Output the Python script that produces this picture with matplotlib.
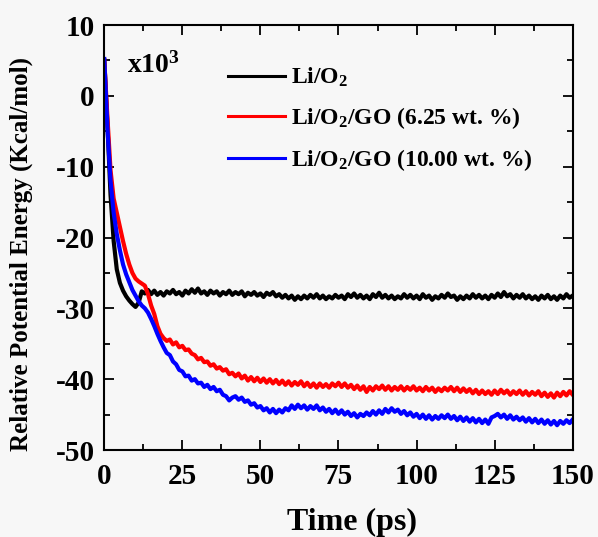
import numpy as np
import matplotlib
matplotlib.use("Agg")
import matplotlib.pyplot as plt
from matplotlib.ticker import MultipleLocator

plt.rcParams['font.family'] = ['Liberation Serif', 'DejaVu Serif']
plt.rcParams['font.weight'] = 'bold'
plt.rcParams['mathtext.fontset'] = 'custom'
plt.rcParams['mathtext.rm'] = 'Liberation Serif:bold'
plt.rcParams['mathtext.bf'] = 'Liberation Serif:bold'
plt.rcParams['mathtext.it'] = 'Liberation Serif:bold'
plt.rcParams['axes.unicode_minus'] = False

time_ps = list(range(0, 151))

li_o2 = [
    5.0, -4.0, -14.0, -20.5, -24.5, -26.4, -27.5, -28.3, -28.9, -29.4,
    -29.8, -29.2, -27.6, -27.9, -27.4, -28.0,
    -27.5, -28.1, -27.7, -28.2, -27.6, -27.9, -27.4, -28.0, -27.7, -28.2,
    -27.5, -27.9, -27.3, -27.8, -27.2, -27.9, -27.6, -28.1, -27.5, -27.9,
    -27.6, -28.2, -27.7, -28.0, -27.5, -28.1, -27.7, -28.0, -27.6, -28.3,
    -27.8, -28.1, -27.7, -28.2, -27.9, -28.4, -27.8, -28.1, -27.7, -28.3,
    -28.0, -28.5, -28.1, -28.6, -28.2, -28.8, -28.3, -28.7, -28.2, -28.6,
    -28.1, -28.5, -28.0, -28.6, -28.2, -28.7, -28.3, -28.6, -28.1, -28.5,
    -28.2, -28.7, -28.0, -28.4, -27.9, -28.5, -28.1, -28.6, -28.2, -28.7,
    -28.0, -28.4, -27.8, -28.5, -28.1, -28.6, -28.2, -28.7, -28.3, -28.6,
    -28.0, -28.5, -28.1, -28.6, -28.2, -28.7, -28.0, -28.5, -28.2, -28.8,
    -28.3, -28.6, -28.1, -28.5, -27.9, -28.4, -28.2, -28.8, -28.3, -28.7,
    -28.2, -28.6, -28.0, -28.5, -28.1, -28.6, -28.2, -28.7, -28.1, -28.5,
    -27.9, -28.4, -27.7, -28.3, -28.0, -28.6, -28.1, -28.5, -28.0, -28.6,
    -28.2, -28.7, -28.3, -28.8, -28.2, -28.6, -28.1, -28.7, -28.3, -28.8,
    -28.2, -28.6, -28.0, -28.5, -28.2,
]

li_o2_go_625 = [
    5.0, -3.0, -10.5, -14.5, -16.5, -18.5, -20.5, -22.3, -23.8, -25.0,
    -25.8, -26.2, -26.5, -26.8, -28.0, -29.6, -30.8, -32.5, -33.6, -34.2,
    -34.6,
    -34.4, -35.1, -34.8, -35.5, -35.3, -35.9, -35.8, -36.4, -36.6, -37.2,
    -37.0, -37.6, -37.5, -38.1, -37.9, -38.5, -38.3, -38.8, -38.6, -39.3,
    -39.1, -39.6, -39.2, -39.9, -39.5, -40.2, -39.7, -40.3, -39.8, -40.4,
    -39.9, -40.5, -40.0, -40.6, -40.1, -40.7, -40.2, -40.8, -40.3, -40.9,
    -40.4, -40.8, -40.3, -41.0, -40.5, -41.1, -40.6, -41.2, -40.6, -41.1,
    -40.7, -41.2, -40.6, -41.0, -40.5, -41.1, -40.6, -41.2, -40.8, -41.4,
    -40.9, -41.5, -41.0, -41.8, -41.1, -41.6, -41.0, -41.4, -40.9, -41.5,
    -41.0, -41.6, -41.1, -41.5, -41.0, -41.6, -41.1, -41.5, -41.0, -41.6,
    -41.2, -41.7, -41.1, -41.6, -41.2, -41.8, -41.3, -41.7, -41.2, -41.6,
    -41.1, -41.7, -41.2, -41.8, -41.3, -41.8, -41.4, -42.0, -41.5, -42.1,
    -41.6, -42.1, -41.7, -42.2, -41.6, -42.1, -41.5, -42.0, -41.6, -42.2,
    -41.7, -42.1, -41.6, -42.2, -41.7, -42.3, -41.8, -42.2, -41.7, -42.4,
    -41.9, -42.5, -42.0, -42.6, -41.9, -42.4, -41.8, -42.3, -41.7, -42.2,
]

li_o2_go_1000 = [
    5.2, -4.5, -12.0, -16.5, -19.5, -21.8, -23.8, -25.2, -26.3, -27.4,
    -28.2, -29.0, -29.6, -30.0, -30.6, -31.5, -32.5, -33.6, -34.6, -35.5,
    -36.3,
    -36.6, -37.5, -37.9, -38.7, -38.9, -39.6, -39.5, -40.2, -40.0, -40.6,
    -40.5, -41.1, -40.8, -41.4, -41.1, -41.7, -41.5, -42.2, -42.4, -43.0,
    -42.6, -42.4, -42.9, -42.6, -43.2, -43.0, -43.6, -43.4, -44.0, -43.8,
    -44.4, -44.1, -44.7, -44.2, -44.8, -44.3, -44.7, -44.1, -44.4, -43.7,
    -44.2, -43.6, -44.1, -43.7, -44.3, -43.8, -44.2, -43.7, -44.4, -44.0,
    -44.6, -44.2, -44.8, -44.3, -44.9, -44.4, -45.0, -44.6, -45.2, -44.8,
    -45.4, -44.9, -45.2, -44.7, -45.1, -44.5, -45.0, -44.4, -44.9, -44.2,
    -44.7, -44.1, -44.6, -44.3, -44.9, -44.5, -45.1, -44.7, -45.3, -44.9,
    -45.5, -45.0, -45.6, -45.1, -45.7, -45.2, -45.6, -45.1, -45.5, -45.0,
    -45.6, -45.2, -45.8, -45.3, -45.9, -45.4, -46.0, -45.5, -46.1, -45.6,
    -46.2, -45.7, -46.3, -45.4, -45.2, -44.9, -45.4, -45.0, -45.6, -45.1,
    -45.7, -45.3, -45.8, -45.4, -46.0, -45.5, -46.1, -45.6, -46.2, -45.7,
    -46.3, -45.8, -46.4, -45.9, -46.5, -45.9, -46.3, -45.8, -46.2, -45.7,
]

labels = ['Li/O$_{2}$', 'Li/O$_{2}$/GO (6.25 wt. %)', 'Li/O$_{2}$/GO (10.00 wt. %)']
colors = ['#000000', '#ff0000', '#0000ff']

fig = plt.figure(figsize=(5.98, 5.37), dpi=100)
bg = '#f7f7f7'
fig.patch.set_facecolor(bg)
ax = fig.add_axes([0.1744, 0.162, 0.7833, 0.7914])
ax.set_facecolor(bg)

for series, lab, col in zip([li_o2, li_o2_go_625, li_o2_go_1000], labels, colors):
    ax.plot(time_ps, series, color=col, lw=3.0, label=lab)

ax.set_xlim(0, 150)
ax.set_ylim(-50, 10)
ax.xaxis.set_major_locator(MultipleLocator(25))
ax.xaxis.set_minor_locator(MultipleLocator(12.5))
ax.yaxis.set_major_locator(MultipleLocator(10))
ax.yaxis.set_minor_locator(MultipleLocator(5))
ax.tick_params(which='both', direction='in', top=True, right=True, width=1.3)
ax.tick_params(which='major', length=7, labelsize=21)
ax.tick_params(axis='x', which='major', pad=9)
ax.tick_params(axis='y', which='major', pad=7)
ax.tick_params(which='minor', length=4)
for s in ax.spines.values():
    s.set_linewidth(1.5)
for lab in ax.get_xticklabels() + ax.get_yticklabels():
    lab.set_fontweight('bold')

ax.set_xlabel('Time (ps)', fontsize=23, fontweight='bold')
ax.set_ylabel('Relative Potential Energy (Kcal/mol)', fontsize=18, fontweight='bold')
ax.xaxis.set_label_coords(0.529, -0.136)
ax.yaxis.set_label_coords(-0.152, 0.461)

ax.text(0.0485, 0.889, 'x10$^{3}$', transform=ax.transAxes, fontsize=20,
        fontweight='bold', va='baseline', ha='left')

leg = ax.legend(loc='upper left', bbox_to_anchor=(0.264, 0.9035), frameon=False,
                fontsize=17, handlelength=2.4, handletextpad=0.25, labelspacing=0.67,
                borderaxespad=0, borderpad=0)
for t in leg.get_texts():
    t.set_fontweight('bold')
for h in leg.get_lines():
    h.set_linewidth(2.2)

fig.savefig('out.png', dpi=100, facecolor=bg)
